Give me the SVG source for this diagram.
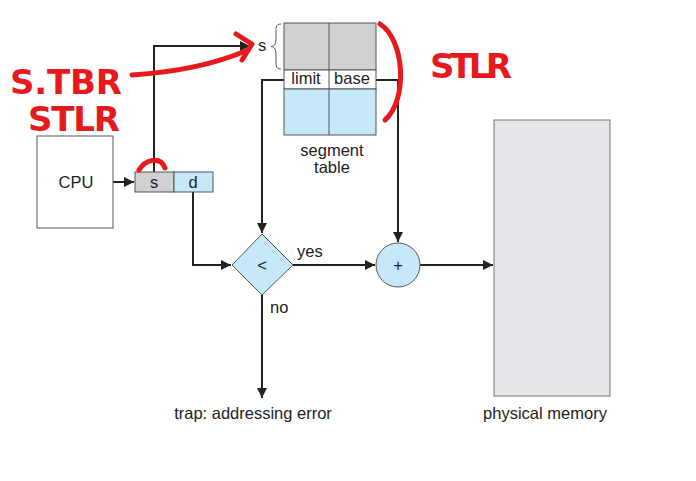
<svg xmlns="http://www.w3.org/2000/svg" width="696" height="481" viewBox="0 0 696 481">
<defs>
<marker id="ah" viewBox="0 0 10 10" refX="10" refY="5" markerWidth="10" markerHeight="10" markerUnits="userSpaceOnUse" orient="auto"><path d="M0,0 L10,5 L0,10 z" fill="#222"/></marker>
<style>
.t{font-family:"Liberation Sans",Arial,sans-serif;font-size:16.5px;fill:#222}
.ln{fill:none;stroke:#222;stroke-width:2}
.bx{stroke:#555;stroke-width:1}
.red{fill:none;stroke:#e8191c;stroke-width:5;stroke-linecap:round;stroke-linejoin:round}
.rt{font-family:"DejaVu Sans",sans-serif;font-size:34px;font-weight:bold;fill:#e8191c}
</style>
</defs>
<rect width="696" height="481" fill="#fff"/>
<g id="connectors">
<path class="ln" d="M113,182 H134" marker-end="url(#ah)"/>
<path class="ln" d="M154,172 V46 H250" marker-end="url(#ah)"/>
<path class="ln" d="M193,192 V265 H231" marker-end="url(#ah)"/>
<path class="ln" d="M284,80 H262 V233" marker-end="url(#ah)"/>
<path class="ln" d="M376,80 H398 V242" marker-end="url(#ah)"/>
<path class="ln" d="M293,265 H375" marker-end="url(#ah)"/>
<path class="ln" d="M420,265 H493" marker-end="url(#ah)"/>
<path class="ln" d="M262,295 V398" marker-end="url(#ah)"/>
</g>
<g id="cpu"><rect x="37" y="136" width="76" height="92" fill="#fff" class="bx"/><text class="t" x="76" y="188" text-anchor="middle" font-size="15">CPU</text></g>
<g id="addr">
<rect x="135" y="172" width="39" height="20" fill="#d0d1d3" class="bx"/><text class="t" x="154" y="188" text-anchor="middle">s</text>
<rect x="174" y="172" width="39" height="20" fill="#c7e8f8" class="bx"/><text class="t" x="193" y="188" text-anchor="middle">d</text>
</g>
<g id="segtable">
<rect x="284" y="23" width="92" height="47" fill="#d0d1d3" class="bx"/>
<rect x="284" y="70" width="92" height="19" fill="#fff" class="bx"/>
<rect x="284" y="89" width="92" height="46" fill="#c7e8f8" class="bx"/>
<line x1="329" y1="23" x2="329" y2="135" class="bx"/>
<text class="t" x="306" y="84" text-anchor="middle">limit</text>
<text class="t" x="352" y="84" text-anchor="middle">base</text>
<path d="M281,24 C275,24 276,28 276,36 C276,44 275,46 271,46.5 C275,47 276,49 276,57 C276,65 275,69 281,69" fill="none" stroke="#555" stroke-width="1"/>
<text class="t" x="258" y="51" font-size="13">s</text>
<text class="t" x="332" y="156" text-anchor="middle">segment</text>
<text class="t" x="332" y="173" text-anchor="middle">table</text>
</g>
<g id="compare"><path d="M262,234 L293,265 L262,295 L232,265 Z" fill="#c7e8f8" stroke="#555" stroke-width="1"/><text class="t" x="262" y="271" text-anchor="middle">&lt;</text></g>
<g id="adder"><circle cx="398" cy="265" r="22" fill="#c7e8f8" stroke="#555" stroke-width="1"/><text class="t" x="398" y="271" text-anchor="middle">+</text></g>
<g id="memory"><rect x="494" y="120" width="116" height="276" fill="#e5e6ea" stroke="#777" stroke-width="1"/><text class="t" x="545" y="419" text-anchor="middle">physical memory</text></g>
<text class="t" x="297" y="257">yes</text>
<text class="t" x="270" y="313">no</text>
<text class="t" x="253" y="419" text-anchor="middle">trap: addressing error</text>
<g id="annotations">
<text class="rt" x="10" y="94" textLength="112">S.TBR</text>
<text class="rt" x="28" y="131" textLength="92">STLR</text>
<text class="rt" x="430" y="78" textLength="82">STLR</text>
<path class="red" d="M132,75 C180,72 220,62 248,50"/>
<path class="red" d="M236,34 L252,44 L242,60"/>
<path class="red" d="M380,24 C405,40 408,100 385,120"/>
<path class="red" d="M139,170 C145,160 160,155 165,168"/>
</g>
</svg>
